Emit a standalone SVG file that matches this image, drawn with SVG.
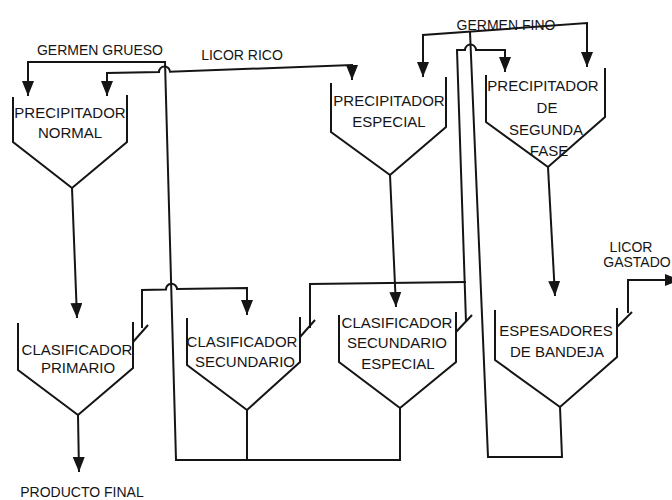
<svg xmlns="http://www.w3.org/2000/svg" width="672" height="500" viewBox="0 0 672 500">
<style>
.ln{fill:none;stroke:#151515;stroke-width:2;stroke-linejoin:miter}
.tn{font-family:"Liberation Sans",Arial,sans-serif;font-size:15px;fill:#151515;text-anchor:middle}
.tl{font-family:"Liberation Sans",Arial,sans-serif;font-size:14px;fill:#151515;text-anchor:middle}
</style>
<defs>
<marker id="ah" markerUnits="userSpaceOnUse" markerWidth="15" markerHeight="12" refX="15" refY="6" orient="auto-start-reverse">
<path d="M0,0 L15,6 L0,12 z" fill="#151515"/>
</marker>
</defs>
<rect width="672" height="500" fill="#ffffff"/>

<g id="connectors">
<path class="ln" d="M400,408 L400,460 L176,460 L165,62 L28,62 L28,96" marker-end="url(#ah)"/>
<path class="ln" d="M247,410 L247,460"/>
<path class="ln" d="M107,96 L107,73 L159,72 A5.5,5.5 0 0 1 170,71.8 L352,65 L352,80" marker-start="url(#ah)" marker-end="url(#ah)"/>
<path class="ln" d="M72,188 L77,318" marker-end="url(#ah)"/>
<path class="ln" d="M78,415 L79,472" marker-end="url(#ah)"/>
<path class="ln" d="M133,342 L148,325"/>
<path class="ln" d="M142,328 L142,290 L166,289.5 A5.5,5.5 0 0 1 177,289 L247,288 L247,315" marker-end="url(#ah)"/>
<path class="ln" d="M390,175 L396,307" marker-end="url(#ah)"/>
<path class="ln" d="M300,337 L315,320"/>
<path class="ln" d="M310,328 L310,284 L466,282"/>
<path class="ln" d="M456,332 L472,315"/>
<path class="ln" d="M466,322 L457,50 L465,50 A5.5,5.5 0 0 1 476,50 L505,50 L505,72" marker-end="url(#ah)"/>
<path class="ln" d="M423,77 L423,35 L587,23 L587,67" marker-start="url(#ah)" marker-end="url(#ah)"/>
<path class="ln" d="M560,407 L562,457 L488,457 L470,32"/>
<path class="ln" d="M548,167 L555,296" marker-end="url(#ah)"/>
<path class="ln" d="M617,327 L632,312"/>
<path class="ln" d="M628,313 L628,280 L680,280" marker-end="url(#ah)"/>
</g>

<g id="labels">
<text class="tl" x="100" y="55">GERMEN GRUESO</text>
<text class="tl" x="242" y="60">LICOR RICO</text>
<text class="tl" x="506" y="30">GERMEN FINO</text>
<text class="tl" x="631" y="252">LICOR</text>
<text class="tl" x="637" y="267">GASTADO</text>
<text class="tl" x="82" y="497">PRODUCTO FINAL</text>
</g>

<g id="precipitador-normal">
<path class="ln" d="M13,97 L13,142 L72,188 L127,142 L127,95"/>
<text class="tn" x="70" y="118">PRECIPITADOR</text>
<text class="tn" x="70" y="138">NORMAL</text>
</g>

<g id="precipitador-especial">
<path class="ln" d="M331,83 L331,132 L390,175 L446,127 L446,77"/>
<text class="tn" x="389" y="106">PRECIPITADOR</text>
<text class="tn" x="389" y="127">ESPECIAL</text>
</g>

<g id="precipitador-segunda-fase">
<path class="ln" d="M486,75 L486,122 L548,167 L605,117 L605,68"/>
<text class="tn" x="543" y="91">PRECIPITADOR</text>
<text class="tn" x="547" y="113">DE</text>
<text class="tn" x="546" y="135">SEGUNDA</text>
<text class="tn" x="549" y="156">FASE</text>
</g>

<g id="clasificador-primario">
<path class="ln" d="M18,323 L18,370 L78,415 L133,368 L133,322"/>
<text class="tn" x="77" y="355">CLASIFICADOR</text>
<text class="tn" x="78" y="373">PRIMARIO</text>
</g>

<g id="clasificador-secundario">
<path class="ln" d="M187,318 L187,365 L247,410 L300,362 L300,317"/>
<text class="tn" x="242" y="347">CLASIFICADOR</text>
<text class="tn" x="245" y="367">SECUNDARIO</text>
</g>

<g id="clasificador-secundario-especial">
<path class="ln" d="M339,315 L339,362 L400,408 L456,362 L456,312"/>
<text class="tn" x="397" y="328">CLASIFICADOR</text>
<text class="tn" x="397" y="348">SECUNDARIO</text>
<text class="tn" x="398" y="369">ESPECIAL</text>
</g>

<g id="espesadores-de-bandeja">
<path class="ln" d="M495,310 L495,360 L560,407 L617,357 L617,308"/>
<text class="tn" x="556" y="336">ESPESADORES</text>
<text class="tn" x="557" y="357">DE BANDEJA</text>
</g>
</svg>
